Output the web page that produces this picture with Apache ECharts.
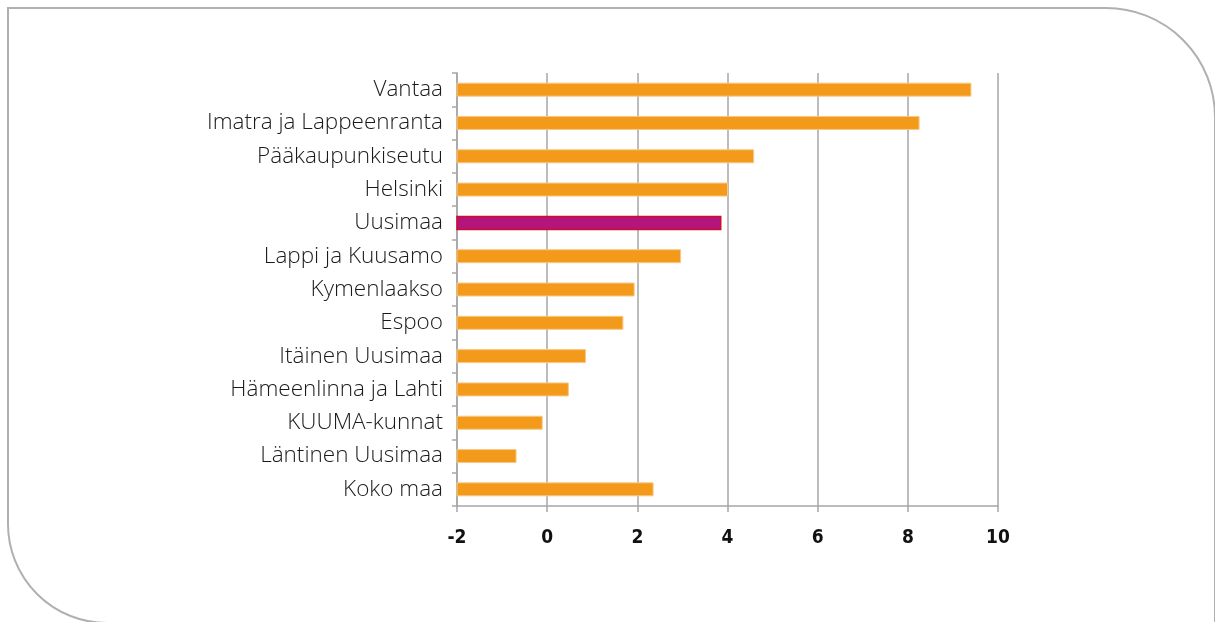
<!DOCTYPE html>
<html>
<head>
<meta charset="utf-8">
<script src="https://cdn.jsdelivr.net/npm/echarts@6/dist/echarts.min.js"></script>
<style>
  html, body { margin: 0; padding: 0; background: #fff; }
  #wrap { position: relative; width: 1215px; height: 622px; overflow: hidden; }
  #chart { position: absolute; left: 0; top: 0; width: 1215px; height: 622px; }
  .frame {
    position: absolute;
    left: 7px;
    top: 7px;
    width: 1205px;
    height: 613px;
    border: 2px solid #b0b0b0;
    border-radius: 0 110px 0 100px;
    pointer-events: none;
  }
</style>
</head>
<body>
<div id="wrap">
  <div id="chart"></div>
  <div class="frame"></div>
</div>
<script>
  // alueet ja muutos (%)
  var categories = [
    'Vantaa',
    'Imatra ja Lappeenranta',
    'Pääkaupunkiseutu',
    'Helsinki',
    'Uusimaa',
    'Lappi ja Kuusamo',
    'Kymenlaakso',
    'Espoo',
    'Itäinen Uusimaa',
    'Hämeenlinna ja Lahti',
    'KUUMA-kunnat',
    'Läntinen Uusimaa',
    'Koko maa',
  ]
  var values = [9.4, 8.25, 4.58, 4.0, 3.85, 2.96, 1.93, 1.68, 0.85, 0.47, -0.11, -0.69, 2.35]
  var highlight = 'Uusimaa'
  var axisMin = -2
  var axisMax = 10
  var axisStep = 2

  var chart = echarts.init(document.getElementById('chart'))

  var option = {
    animation: false,
    grid: {
      left: 457,
      right: 217,
      top: 73,
      bottom: 116,
    },
    xAxis: {
      type: 'value',
      min: axisMin,
      max: axisMax,
      interval: axisStep,
      axisLine: { show: true, lineStyle: { color: '#a6a6a6', width: 1.5 } },
      axisTick: { show: true, length: 6, lineStyle: { color: '#a6a6a6', width: 1.5 } },
      splitLine: { show: true, lineStyle: { color: '#a6a6a6', width: 1.5 } },
      axisLabel: {
        margin: 23,
        color: '#111',
        fontFamily: 'DejaVu Sans Condensed',
        fontWeight: 'bold',
        fontSize: 19,
      },
    },
    yAxis: {
      type: 'category',
      data: categories,
      inverse: true,
      axisLine: { show: true, onZero: false, lineStyle: { color: '#a6a6a6', width: 1.5 } },
      axisTick: { show: true, length: 5, lineStyle: { color: '#a6a6a6', width: 1.5 } },
      splitLine: { show: false },
      axisLabel: {
        margin: 14,
        color: '#1a1a1a',
        fontFamily: 'Open Sans',
        fontWeight: 300,
        fontSize: 22.5,
      },
    },
    series: [
      {
        type: 'custom',
        encode: { x: 0, y: 1 },
        data: categories.map(function (name, i) {
          return [values[i], name]
        }),
        renderItem: function (params, api) {
          var idx = params.dataIndex
          var start = api.coord([axisMin, idx])
          var end = api.coord([api.value(0), idx])
          var h = 13
          var isHi = categories[idx] === highlight
          return {
            type: 'rect',
            shape: { x: start[0], y: start[1] - h / 2, width: end[0] - start[0], height: h },
            style: {
              fill: isHi ? '#b5157a' : '#f39a1a',
              stroke: isHi ? '#c8102e' : '#f8c88a',
              lineWidth: isHi ? 1.5 : 1,
            },
          }
        },
      },
    ],
  }
  chart.setOption(option)
</script>
</body>
</html>
